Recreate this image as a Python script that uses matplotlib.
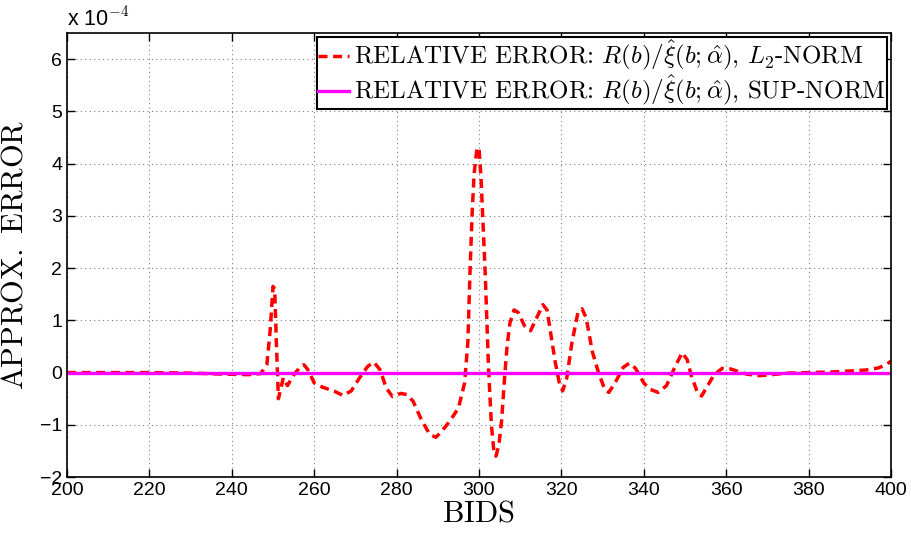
import matplotlib
matplotlib.use("Agg")
import matplotlib.pyplot as plt
import numpy as np

# ── Data (values in units of 1e-4) ─────────────────────────────────────────────
bids_l2 = [200, 210, 220, 230, 238, 244, 247, 248.5, 249.3, 250, 250.4, 250.8,
           251.3, 252.5, 253.5, 255, 256.5, 257.5, 258.5, 260, 262, 265, 267,
           269, 271, 273, 274.5, 276, 277.5, 279, 281, 282.5, 284, 286, 288,
           289.5, 291, 293, 295, 296.5, 297.3, 297.8, 298.3, 298.8, 299.5, 300,
           300.5, 301, 301.5, 302.3, 303, 303.6, 304.1, 304.8, 305.5, 306.2,
           306.8, 307.5, 308.5, 309.5, 311, 312.5, 314, 315.5, 316.5, 317.5,
           318.5, 319.5, 320.3, 321.3, 322.5, 324, 325, 326, 327.5, 329, 330.5,
           331.5, 333, 335, 336.5, 338, 340, 341.5, 343.5, 345.5, 347.5, 349.3,
           350.5, 351.5, 353, 354, 355.5, 357, 359, 361, 363, 365, 368, 371,
           375, 380, 385, 390, 394, 397, 399, 400]
err_l2 = [0.0, 0.0, 0.0, -0.01, -0.03, -0.04, -0.02, 0.15, 0.8, 1.65, 1.6, 0.6,
          -0.5, -0.1, -0.25, -0.05, 0.1, 0.15, 0.05, -0.2, -0.28, -0.36, -0.44,
          -0.35, -0.1, 0.12, 0.2, 0.05, -0.3, -0.46, -0.4, -0.42, -0.55, -0.9,
          -1.18, -1.24, -1.12, -0.92, -0.68, -0.2, 0.6, 1.9, 3.0, 3.8, 4.3, 4.3,
          3.7, 2.8, 1.9, 0.1, -1.0, -1.5, -1.6, -1.4, -0.9, -0.1, 0.5, 0.95,
          1.2, 1.15, 0.9, 0.8, 1.05, 1.3, 1.2, 0.7, 0.2, -0.2, -0.35, -0.1,
          0.55, 1.15, 1.22, 1.05, 0.4, 0.0, -0.32, -0.38, -0.2, 0.1, 0.18,
          0.08, -0.2, -0.32, -0.38, -0.25, 0.1, 0.38, 0.25, -0.05, -0.38,
          -0.45, -0.25, -0.05, 0.08, 0.07, 0.02, -0.03, -0.06, -0.04, -0.01,
          0.0, 0.01, 0.03, 0.05, 0.09, 0.16, 0.22]

bids_sup = [200, 250, 300, 350, 400]
err_sup = [0.0, 0.0, 0.0, 0.0, 0.0]

x_ticks = list(range(200, 401, 20))
y_ticks = [-2, -1, 0, 1, 2, 3, 4, 5, 6]

label_l2 = r"RELATIVE ERROR: $R(b)/\hat{\xi}(b;\hat{\alpha})$, $L_2$-NORM"
label_sup = r"RELATIVE ERROR: $R(b)/\hat{\xi}(b;\hat{\alpha})$, SUP-NORM"

# ── Style ──────────────────────────────────────────────────────────────────────
plt.rcParams["font.family"] = ["Liberation Sans", "DejaVu Sans"]
plt.rcParams["mathtext.fontset"] = "cm"

fig = plt.figure(figsize=(9.12, 5.33), dpi=100)
ax = fig.add_axes([0.0735, 0.105, 0.9035, 0.833])

ax.plot(bids_l2, np.array(err_l2) * 1e-4, color="red", linestyle="--",
        linewidth=2.5, dashes=(2.6, 1.6), label=label_l2)
ax.plot(bids_sup, np.array(err_sup) * 1e-4, color="magenta", linewidth=2.4,
        label=label_sup)

ax.set_xlim(200, 400)
ax.set_ylim(-2e-4, 6.5e-4)
ax.set_xticks(x_ticks)
ax.set_yticks([v * 1e-4 for v in y_ticks])
ax.set_xticklabels([str(t) for t in x_ticks], fontsize=14)
ax.set_yticklabels([f"\u2212{abs(t)}" if t < 0 else str(t) for t in y_ticks], fontsize=14)

ax.tick_params(direction="in", top=True, right=True, length=6, width=1)
ax.grid(True, color="#808080", linestyle=(0, (1, 3)), linewidth=0.8)
for s in ax.spines.values():
    s.set_linewidth(1.2)

ax.set_xlabel(r"$\mathrm{BIDS}$", fontsize=22, labelpad=0)
ax.set_ylabel(r"$\mathrm{APPROX.\ ERROR}$", fontsize=22)
ax.yaxis.set_label_coords(-0.045, 0.5)

fig.text(0.0735, 0.942, r"x 10$^{-4}$", fontsize=15.5, ha="left", va="bottom")

leg = ax.legend(loc="upper right", prop={"family": "cmr10", "size": 18},
                handlelength=1.25, handletextpad=0.2, borderpad=0.05,
                labelspacing=0.0, borderaxespad=0.15, fancybox=False,
                framealpha=1)
leg.get_frame().set_edgecolor("black")
leg.get_frame().set_linewidth(1.5)

plt.savefig("out.png", dpi=100)
plt.close()
